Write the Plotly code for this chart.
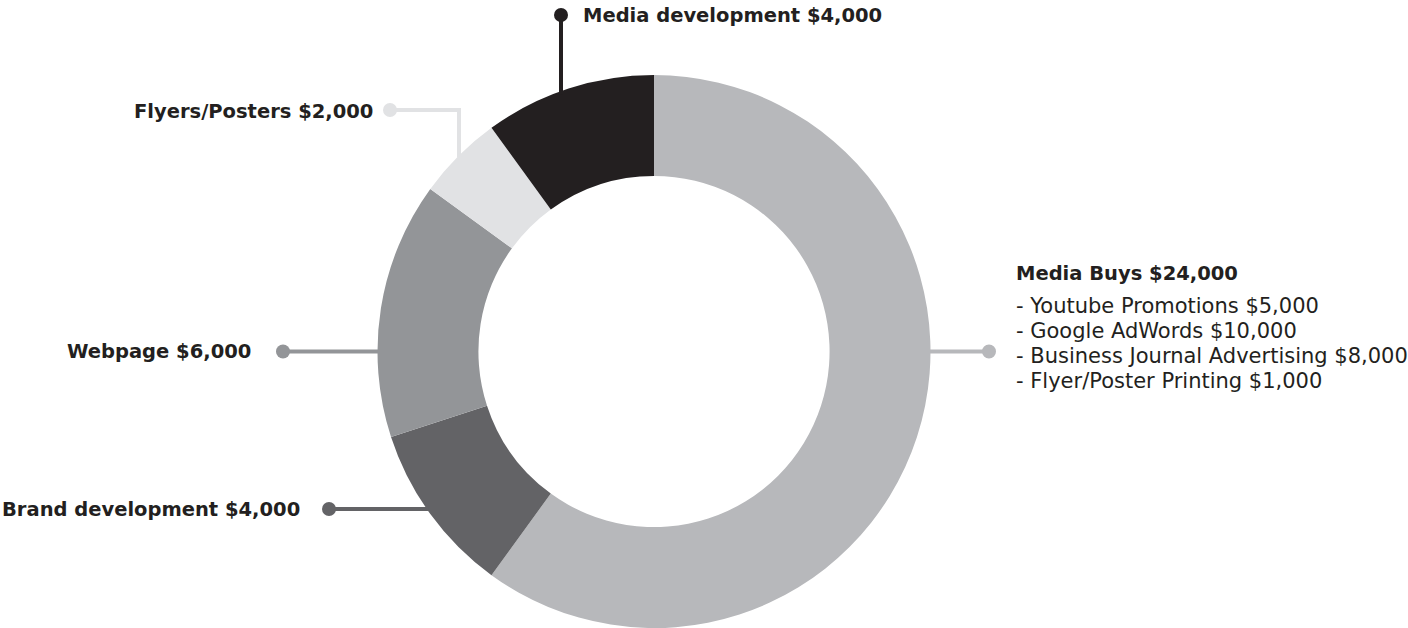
import math
import plotly.graph_objects as go

# ---------------- data ----------------
categories = ["Media Buys", "Brand development", "Webpage", "Flyers/Posters", "Media development"]
budget = [24000, 4000, 6000, 2000, 4000]
slice_colors = ["#B7B8BB", "#636366", "#939598", "#E1E2E4", "#231F20"]

media_buys_items = ["Youtube Promotions", "Google AdWords",
                    "Business Journal Advertising", "Flyer/Poster Printing"]
media_buys_item_values = [5000, 10000, 8000, 1000]

# ---------------- layout constants (pixels) ----------------
W, H = 1408, 628
CX, CY, R = 654, 351.5, 276.5
HOLE = 0.635
TXT = "#231F20"
FONT = "DejaVu Sans, sans-serif"
BOLD_SIZE = 19.5
REG_SIZE = 21


def px(x):
    return x / W


def py(y):
    return (H - y) / H


def ring_y(x, upper=True):
    d = math.sqrt(max(R * R - (x - CX) ** 2, 0))
    return CY - d if upper else CY + d


def ring_x(y, left=True):
    d = math.sqrt(max(R * R - (y - CY) ** 2, 0))
    return CX - d if left else CX + d


def money(v):
    return "${:,}".format(v)


fig = go.Figure(go.Pie(
    labels=categories,
    values=budget,
    sort=False,
    direction="clockwise",
    rotation=0,
    hole=HOLE,
    marker=dict(colors=slice_colors, line=dict(width=0)),
    textinfo="none",
    hovertemplate="%{label}: $%{value:,}<extra></extra>",
    domain=dict(x=[px(CX - R), px(CX + R)], y=[py(CY + R), py(CY - R)]),
    showlegend=False,
))

shapes = []
annotations = []
LW = 4
DOT = 7


def dot(x, y, color):
    shapes.append(dict(type="circle", xref="paper", yref="paper",
                       x0=px(x - DOT), x1=px(x + DOT), y0=py(y + DOT), y1=py(y - DOT),
                       fillcolor=color, line=dict(width=0)))


def seg(x0, y0, x1, y1, color):
    shapes.append(dict(type="line", xref="paper", yref="paper",
                       x0=px(x0), y0=py(y0), x1=px(x1), y1=py(y1),
                       line=dict(color=color, width=LW)))


def label(x, y, text, anchor, bold=True, size=BOLD_SIZE):
    annotations.append(dict(xref="paper", yref="paper", x=px(x), y=py(y),
                            text=("<b>%s</b>" % text) if bold else text,
                            showarrow=False, xanchor=anchor, yanchor="middle",
                            font=dict(family=FONT, size=size, color=TXT)))


# Media Buys (right)
mb_y = CY
seg(ring_x(mb_y, left=False) - 2, mb_y, 989, mb_y, slice_colors[0])
dot(989, mb_y, slice_colors[0])
label(1014, 273, "%s %s" % (categories[0], money(budget[0])), "left")
for i, (it, v) in enumerate(zip(media_buys_items, media_buys_item_values)):
    label(1014, 306 + 25 * i, "- %s %s" % (it, money(v)), "left", bold=False, size=REG_SIZE)

# Brand development (lower left)
bd_y = 509
seg(329, bd_y, ring_x(bd_y) + 2, bd_y, slice_colors[1])
dot(329, bd_y, slice_colors[1])
label(302, bd_y, "%s %s" % (categories[1], money(budget[1])), "right")

# Webpage (left)
wp_y = CY
seg(283, wp_y, ring_x(wp_y) + 2, wp_y, slice_colors[2])
dot(283, wp_y, slice_colors[2])
label(253, wp_y, "%s %s" % (categories[2], money(budget[2])), "right")

# Flyers/Posters (upper left, elbow)
fp_y, fp_x = 110, 459
seg(390, fp_y, fp_x + LW / 2, fp_y, slice_colors[3])
seg(fp_x, fp_y, fp_x, ring_y(fp_x) + 2, slice_colors[3])
dot(390, fp_y, slice_colors[3])
label(375, fp_y + 1, "%s %s" % (categories[3], money(budget[3])), "right")

# Media development (top)
md_x = 561
seg(md_x, 15, md_x, ring_y(md_x) + 3, slice_colors[4])
dot(md_x, 15, slice_colors[4])
label(581, 15, "%s %s" % (categories[4], money(budget[4])), "left")

fig.update_layout(
    width=W, height=H,
    margin=dict(l=0, r=0, t=0, b=0),
    paper_bgcolor="white",
    plot_bgcolor="white",
    shapes=shapes,
    annotations=annotations,
)

fig.write_html("out.html")
